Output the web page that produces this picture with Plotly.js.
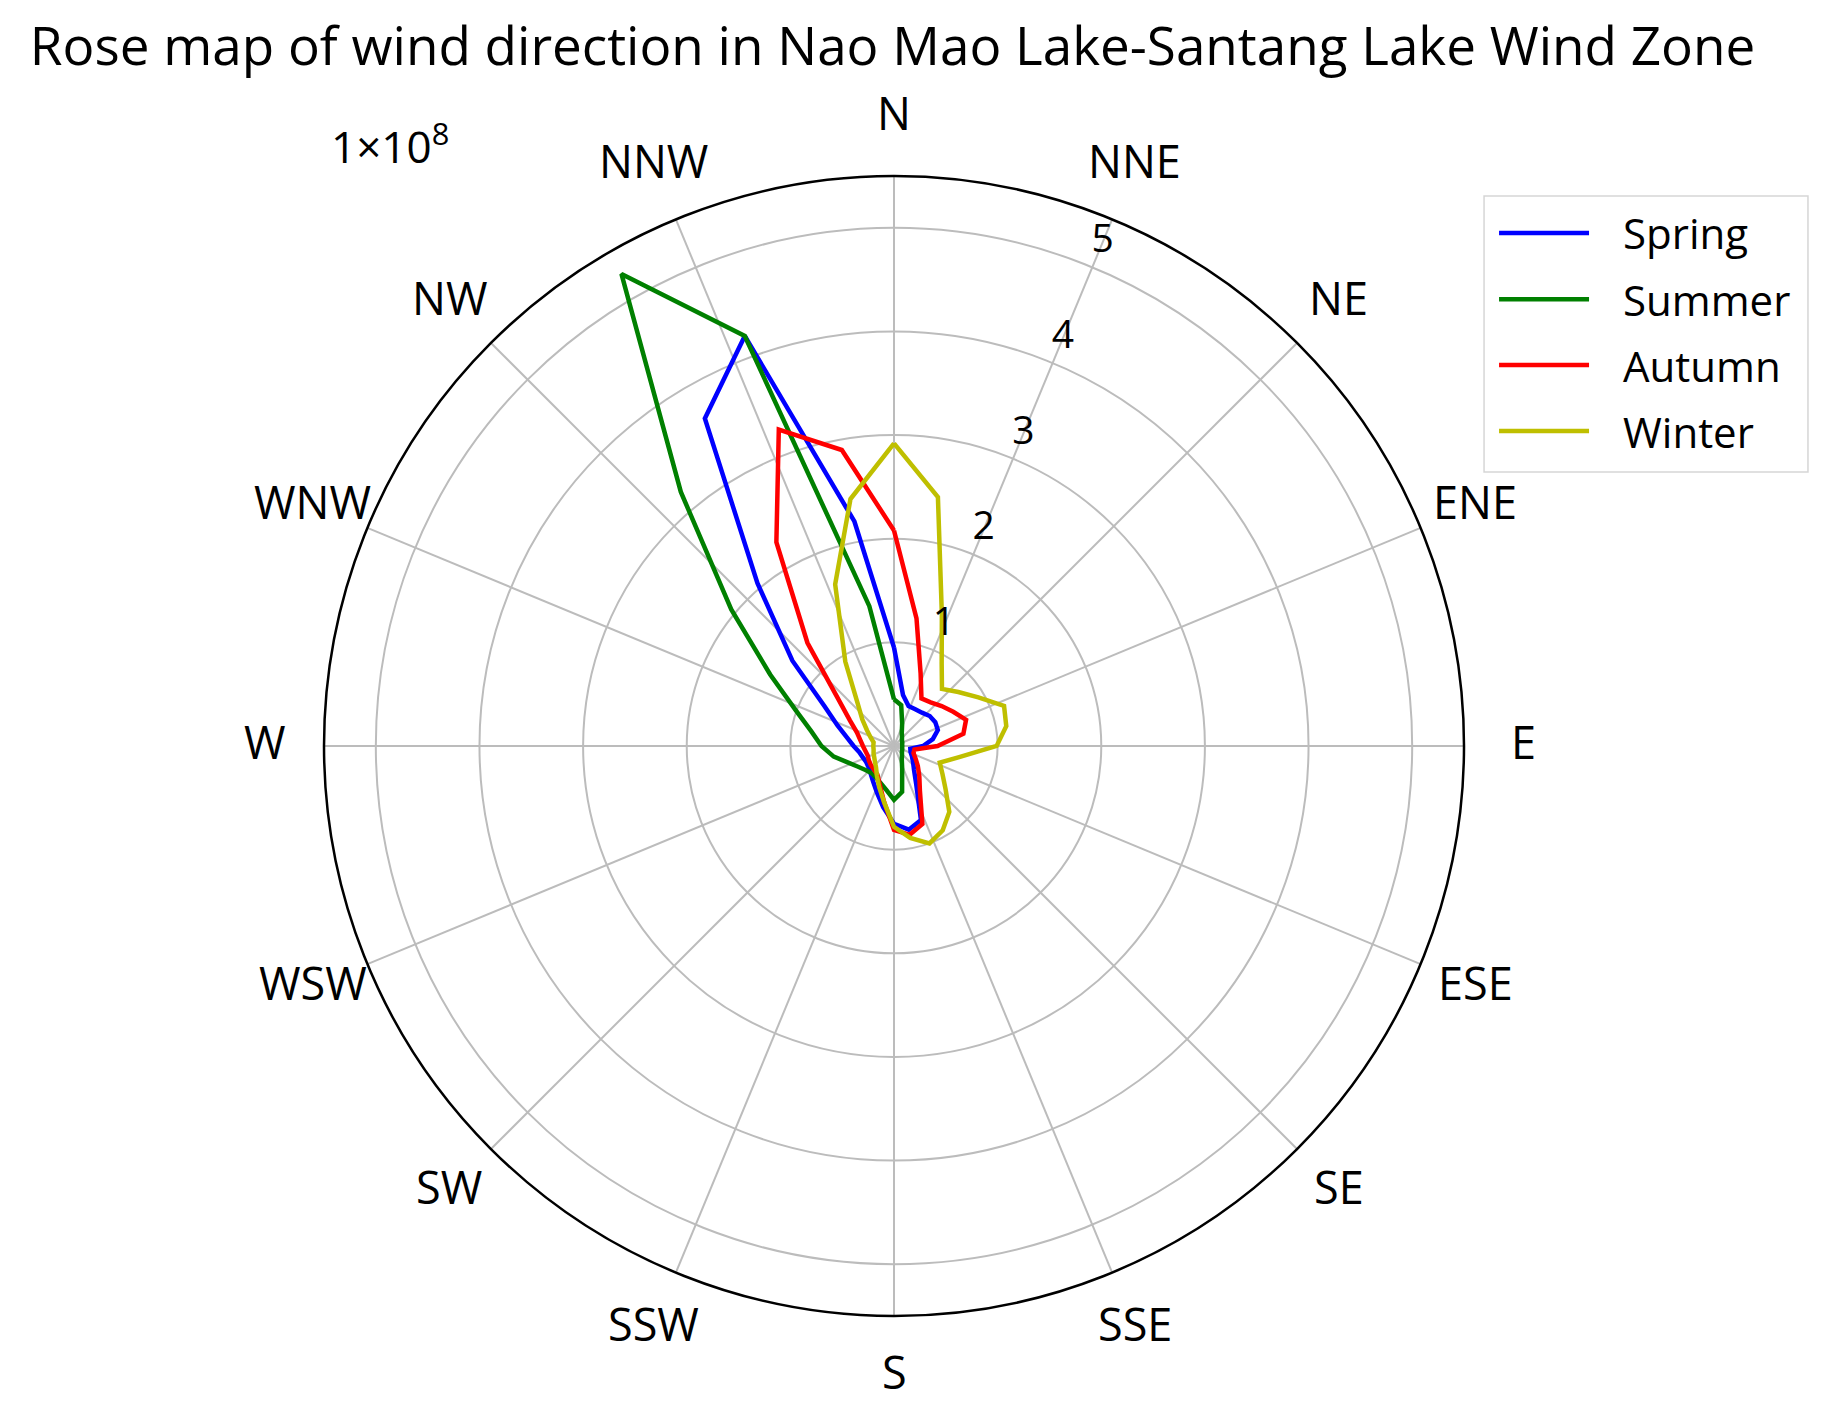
<!DOCTYPE html>
<html>
<head>
<meta charset="utf-8">
<script src="https://cdn.plot.ly/plotly-3.0.1.min.js"></script>
<style>html,body{margin:0;padding:0;background:#fff;}#chart{width:1829px;height:1410px;}</style>
</head>
<body>
<div id="chart"></div>
<script>
// Wind directions (degrees clockwise from north)
const directions = [0,10,20,30,40,50,60,70,80,90,100,110,120,130,140,150,160,170,
                    180,190,200,210,220,230,240,250,260,270,280,290,300,310,320,330,340,350];
// Values in units of 1e8
const spring = [0.95,0.5,0.41,0.41,0.42,0.45,0.46,0.45,0.38,0.28,0.16,0.17,0.2,0.24,0.3,0.43,0.76,0.82,
                0.75,0.6,0.48,0.4,0.35,0.32,0.31,0.32,0.34,0.39,0.46,0.58,0.78,1.28,2.05,3.65,4.21,2.2];
const summer = [0.45,0.4,0.23,0.15,0.12,0.1,0.09,0.085,0.08,0.08,0.08,0.085,0.09,0.1,0.12,0.15,0.23,0.45,
                0.52,0.43,0.38,0.35,0.34,0.36,0.4,0.47,0.59,0.7,0.81,1.01,1.38,2.05,3.2,5.26,4.21,1.37];
const autumn = [2.08,1.25,0.75,0.53,0.55,0.6,0.66,0.74,0.68,0.42,0.2,0.2,0.24,0.3,0.38,0.5,0.8,0.87,
                0.81,0.55,0.4,0.32,0.3,0.29,0.28,0.27,0.28,0.3,0.33,0.38,0.49,0.7,1.3,2.27,3.25,2.9];
const winter = [2.92,2.44,1.35,0.92,0.72,0.81,0.94,1.13,1.1,0.99,0.63,0.47,0.54,0.65,0.83,0.94,1.0,0.9,
                0.78,0.55,0.42,0.33,0.27,0.24,0.22,0.21,0.2,0.2,0.2,0.24,0.3,0.4,0.55,0.94,1.66,2.42];
const seriesNames = ["Spring","Summer","Autumn","Winter"];
const seriesColors = ["#0000ff","#008000","#ff0000","#bfbf00"];
const compassAngles = [0,22.5,45,67.5,90,112.5,135,157.5,180,202.5,225,247.5,270,292.5,315,337.5];
const compassLabels = ["N","NNE","NE","ENE","E","ESE","SE","SSE","S","SSW","SW","WSW","W","WNW","NW","NNW"];
const radialTicks = [1,2,3,4,5];
const radialTickLabels = ["1","2","3","4","5"];
const offsetLabel = "1×10<sup>8</sup>";
const titleText = "Rose map of wind direction in Nao Mao Lake-Santang Lake Wind Zone";

const FONT = "Open Sans, Noto Sans, sans-serif";
const R_MAX = 5.5;
const W = 1829, H = 1410;
const domX = [0.17715, 0.80044], domY = [0.06667, 0.87518];
const allSeries = [spring, summer, autumn, winter];

const traces = allSeries.map((vals, i) => ({
  type: "scatterpolar",
  mode: "lines",
  r: vals.concat([vals[0]]),
  theta: directions.concat([directions[0]]),
  name: seriesNames[i],
  line: {color: seriesColors[i], width: 4.5},
  showlegend: false,
  hoverinfo: "skip"
}));

// radial tick labels along the NNE spoke
traces.push({
  type: "scatterpolar",
  mode: "text",
  r: radialTicks.map(v => v + 0.26),
  theta: radialTicks.map(() => 22.5),
  text: radialTickLabels,
  textposition: "middle center",
  textfont: {family: FONT, size: 39, color: "#000"},
  showlegend: false,
  hoverinfo: "skip"
});

const annotations = [];
// compass labels centred on a circle just outside the polar frame
const cx = (domX[0] + domX[1]) / 2, cy = (domY[0] + domY[1]) / 2;
const radPx = Math.min((domX[1] - domX[0]) * W, (domY[1] - domY[0]) * H) / 2;
const labelRadPx = radPx * 1.104;
compassAngles.forEach((a, i) => {
  const t = a * Math.PI / 180;
  annotations.push({xref: "paper", yref: "paper",
    x: cx + labelRadPx * Math.sin(t) / W,
    y: cy + labelRadPx * Math.cos(t) / H,
    xanchor: "center", yanchor: "middle", yshift: 4, text: compassLabels[i], showarrow: false,
    font: {family: FONT, size: 45, color: "#000"}});
});

// custom legend
const legX0 = 0.8114, legX1 = 0.9885, legY0 = 0.6652, legY1 = 0.861;
const rowY = [0.8348, 0.7878, 0.7411, 0.6943];
const shapes = [{
  type: "rect", xref: "paper", yref: "paper",
  x0: legX0, x1: legX1, y0: legY0, y1: legY1,
  line: {color: "#d6d6d6", width: 1.5}, fillcolor: "rgba(255,255,255,0.8)", layer: "above"
}];
seriesNames.forEach((n, i) => {
  shapes.push({type: "line", xref: "paper", yref: "paper",
    x0: 0.8196, x1: 0.8688, y0: rowY[i], y1: rowY[i],
    line: {color: seriesColors[i], width: 4.5}, layer: "above"});
  annotations.push({xref: "paper", yref: "paper", x: 0.8863, y: rowY[i],
    xanchor: "left", yanchor: "middle", text: n, showarrow: false,
    font: {family: FONT, size: 42, color: "#000"}});
});
annotations.push({xref: "paper", yref: "paper", x: 0.2135, y: 0.898,
  xanchor: "center", yanchor: "middle", text: offsetLabel, showarrow: false,
  font: {family: FONT, size: 44, color: "#000"}});

const layout = {
  width: W, height: H,
  margin: {l: 0, r: 0, t: 0, b: 0},
  paper_bgcolor: "#fff",
  showlegend: false,
  title: {text: titleText, x: 0.488, xanchor: "center", y: 0.967, yanchor: "middle",
          font: {family: FONT, size: 53, color: "#000"}},
  polar: {
    domain: {x: domX, y: domY},
    bgcolor: "#fff",
    radialaxis: {range: [0, R_MAX], tickvals: radialTicks, showticklabels: false,
                 ticks: "", showline: false, gridcolor: "#bcbcbc", gridwidth: 2},
    angularaxis: {rotation: 90, direction: "clockwise", thetaunit: "degrees",
                  tickmode: "array", tickvals: compassAngles, ticktext: compassLabels,
                  showticklabels: false, ticks: "",
                  showline: true, linecolor: "#000", linewidth: 2.5,
                  gridcolor: "#bcbcbc", gridwidth: 2}
  },
  shapes: shapes,
  annotations: annotations
};

Plotly.newPlot("chart", traces, layout, {displayModeBar: false, staticPlot: true});
</script>
</body>
</html>
